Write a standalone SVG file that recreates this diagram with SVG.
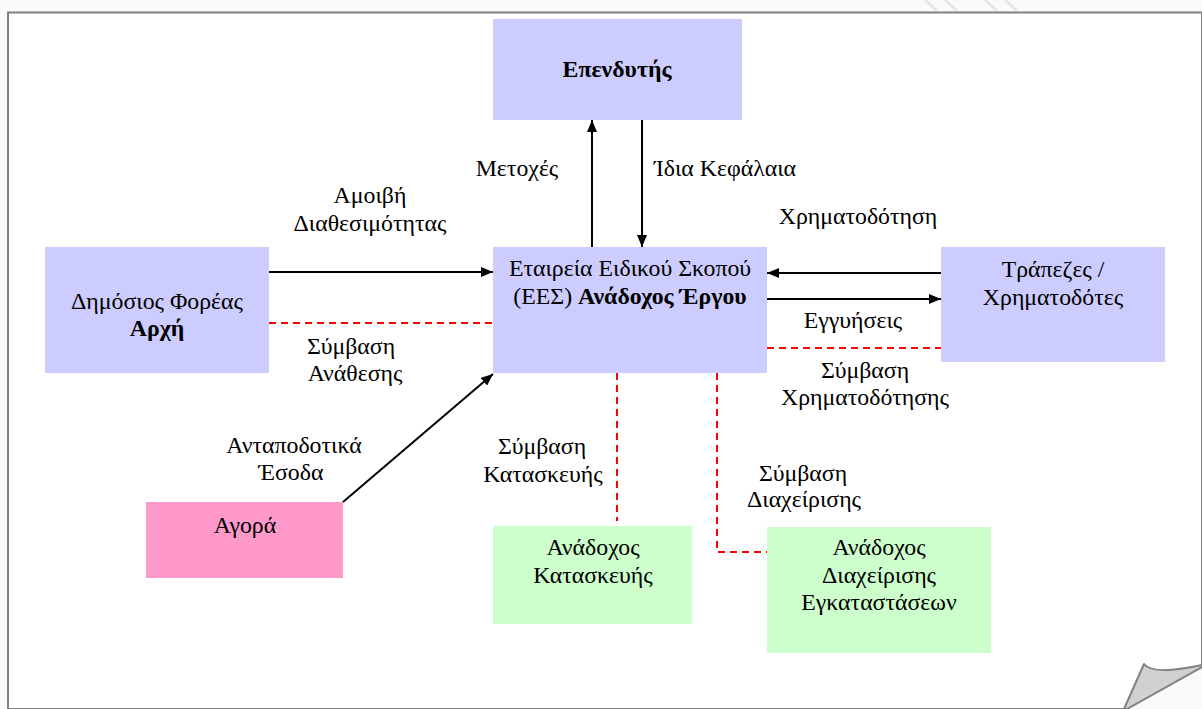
<svg xmlns="http://www.w3.org/2000/svg" width="1202" height="709" viewBox="0 0 1202 709">
<style>
text{font-family:"Liberation Serif","DejaVu Serif",serif;font-size:23.8px;fill:#000;text-anchor:middle}
.b{font-weight:bold}
.blue{fill:#ccccff}
.green{fill:#ccffcc}
.pink{fill:#ff99cc}
.arr{stroke:#000;stroke-width:2;fill:none;marker-end:url(#ah)}
.dash{stroke:#ff0000;stroke-width:2;fill:none;stroke-dasharray:7 5}
</style>
<defs>
<marker id="ah" viewBox="0 0 12 10" refX="12" refY="5" markerWidth="12" markerHeight="10" markerUnits="userSpaceOnUse" orient="auto">
<path d="M0,0 L12,5 L0,10 Z" fill="#000"/>
</marker>
</defs>
<rect x="0" y="0" width="1202" height="709" fill="#fafafa"/>
<g stroke="#e6e6e6" stroke-width="3">
<line x1="925" y1="0" x2="937" y2="11"/>
<line x1="945" y1="0" x2="957" y2="11"/>
<line x1="985" y1="0" x2="997" y2="11"/>
<line x1="1005" y1="0" x2="1017" y2="11"/>
</g>
<path d="M8,709 V12.5 H1202 V709 Z" fill="#fff" stroke="#808080" stroke-width="2"/>
<g id="curl">
<path d="M1202,667 L1127,709 L1202,709 Z" fill="#fafafa"/>
<path d="M1144,664 C1150,672 1170,672 1202,665 L1202,667 L1127,709 L1124,709 Z" fill="#d0d0d0" stroke="#808080" stroke-width="2" stroke-linejoin="round"/>
</g>
<g id="investor"><rect class="blue" x="493" y="19" width="249" height="101"/><text class="b" x="617" y="77">Επενδυτής</text></g>
<g id="spv"><rect class="blue" x="493" y="247" width="274" height="126"/><text x="630" y="276">Εταιρεία Ειδικού Σκοπού</text><text x="630" y="304">(ΕΕΣ) <tspan class="b">Ανάδοχος Έργου</tspan></text></g>
<g id="public"><rect class="blue" x="45" y="247" width="224" height="126"/><text x="157" y="309">Δημόσιος Φορέας</text><text class="b" x="157" y="336">Αρχή</text></g>
<g id="banks"><rect class="blue" x="941" y="247" width="224" height="115"/><text x="1053" y="277">Τράπεζες /</text><text x="1053" y="305">Χρηματοδότες</text></g>
<g id="market"><rect class="pink" x="146" y="502" width="197" height="76"/><text x="245" y="533">Αγορά</text></g>
<g id="construction"><rect class="green" x="493" y="526" width="199" height="98"/><text x="593" y="555">Ανάδοχος</text><text x="593" y="583">Κατασκευής</text></g>
<g id="operation"><rect class="green" x="767" y="527" width="224" height="126"/><text x="879" y="555">Ανάδοχος</text><text x="879" y="583">Διαχείρισης</text><text x="879" y="610">Εγκαταστάσεων</text></g>
<g id="connectors">
<line class="arr" x1="592" y1="247" x2="592" y2="120"/>
<line class="arr" x1="642" y1="120" x2="642" y2="247"/>
<line class="arr" x1="269" y1="272" x2="493" y2="272"/>
<line class="arr" x1="941" y1="273" x2="767" y2="273"/>
<line class="arr" x1="767" y1="299" x2="941" y2="299"/>
<line class="arr" x1="343" y1="502" x2="493" y2="374"/>
<line class="dash" x1="269" y1="323" x2="493" y2="323"/>
<line class="dash" x1="767" y1="348" x2="941" y2="348"/>
<line class="dash" x1="617" y1="373" x2="617" y2="521"/>
<polyline class="dash" points="717,373 717,552 767,552"/>
</g>
<g id="labels">
<text x="370" y="203">Αμοιβή</text><text x="370" y="231">Διαθεσιμότητας</text>
<text x="517" y="176">Μετοχές</text>
<text x="725" y="176">Ίδια Κεφάλαια</text>
<text x="858" y="224">Χρηματοδότηση</text>
<text x="853" y="328">Εγγυήσεις</text>
<text x="351" y="354">Σύμβαση</text><text x="355" y="381">Ανάθεσης</text>
<text x="865" y="378">Σύμβαση</text><text x="865" y="405">Χρηματοδότησης</text>
<text x="294" y="453">Ανταποδοτικά</text><text x="291" y="480">Έσοδα</text>
<text x="542" y="454">Σύμβαση</text><text x="543" y="482">Κατασκευής</text>
<text x="803" y="481">Σύμβαση</text><text x="804" y="507">Διαχείρισης</text>
</g>
</svg>
